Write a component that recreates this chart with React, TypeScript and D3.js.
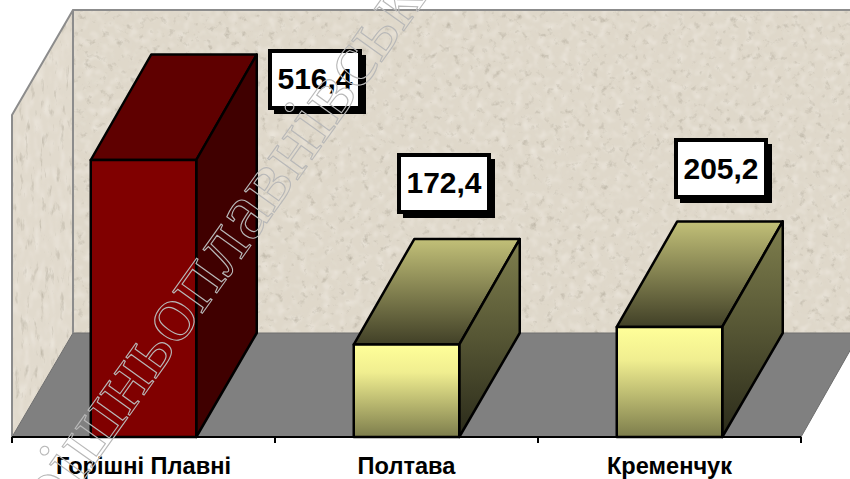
import React from "react";
import * as d3 from "d3";

const categories = ["Горішні Плавні", "Полтава", "Кременчук"];
const values = [516.4, 172.4, 205.2];
const valueLabels = ["516,4", "172,4", "205,2"];
const watermark = "Горішньоплавнівськ";

const W = 850, H = 479;
const depthX = 60.5, depthY = 104, topDepth = 105.5;
const floorY = 437, wallTop = 10;
const x = d3.scaleBand<string>().domain(categories).range([12, 801]);
const y = d3.scaleLinear().domain([0, 516.4]).range([floorY, 160]);
const poly = (pts: [number, number][]) => d3.line()(pts) + "Z";
const labelBoxes = [[270, 51, 38], [399, 155, 38], [676, 140, 39]];

function Granite({ id, freq, seed }: { id: string; freq: string; seed: number }) {
  return (
    <filter id={id} x="0" y="0" width="100%" height="100%">
      <feTurbulence type="fractalNoise" baseFrequency={freq} numOctaves={4} seed={seed} />
      <feColorMatrix type="matrix" values="0 0 0 0 0.47  0 0 0 0 0.43  0 0 0 0 0.35  2.6 0 0 0 -1.58" />
      <feGaussianBlur stdDeviation="0.7" />
      <feComposite in2="SourceGraphic" operator="in" result="dark" />
      <feTurbulence type="fractalNoise" baseFrequency={freq} numOctaves={3} seed={seed + 5} />
      <feColorMatrix type="matrix" values="0 0 0 0 0.93  0 0 0 0 0.9  0 0 0 0 0.84  1.2 0 0 0 -0.58" />
      <feGaussianBlur stdDeviation="1" />
      <feComposite in2="SourceGraphic" operator="in" result="light" />
      <feMerge><feMergeNode in="SourceGraphic" /><feMergeNode in="light" /><feMergeNode in="dark" /></feMerge>
    </filter>
  );
}

export default function App() {
  const bw = 105.5;
  return (
    <svg width={W} height={H} style={{ position: "absolute", left: 0, top: 0 }} fontFamily="Liberation Sans, Arial, sans-serif">
      <defs>
        <Granite id="granite" freq="0.13" seed={7} />
        <Granite id="graniteSide" freq="0.2 0.06" seed={3} />
        <linearGradient id="front" x1="0" x2="0" y1="0" y2="1">
          <stop offset="0" stopColor="#ffff99" /><stop offset="0.3" stopColor="#f0ee90" /><stop offset="1" stopColor="#7d7d4c" />
        </linearGradient>
        <linearGradient id="top" x1="0" x2="0" y1="0" y2="1">
          <stop offset="0" stopColor="#c2c078" /><stop offset="1" stopColor="#414027" />
        </linearGradient>
        <linearGradient id="side" x1="0" x2="0" y1="0" y2="1">
          <stop offset="0" stopColor="#80804e" /><stop offset="1" stopColor="#2b2b1a" />
        </linearGradient>
      </defs>
      <rect x={73} y={wallTop} width={W - 73} height={floorY - depthY - wallTop} fill="#dfd8ca" filter="url(#granite)" />
      <path d={poly([[12, 115], [73, wallTop], [73, floorY - depthY], [12, floorY]])} fill="#e1dacd" filter="url(#graniteSide)" />
      <path d={poly([[12, floorY], [73, floorY - depthY], [W + 10, floorY - depthY], [801, floorY]])} fill="#808080" stroke="#6e6e6e" strokeWidth={1} />
      <path d={`M12 ${floorY}V115L73 ${wallTop}H${W}M73 ${wallTop}V${floorY - depthY}`} fill="none" stroke="#8c8c8c" strokeWidth={2} />
      <line x1={12} x2={801} y1={floorY} y2={floorY} stroke="#000" strokeWidth={2} />
      {[...categories.map((c) => x(c)!), 801].map((t, i) => (
        <line key={i} x1={t} x2={t} y1={floorY} y2={floorY + 6} stroke="#000" strokeWidth={2} />
      ))}
      {categories.map((c, i) => {
        const cx = x(c)! + x.bandwidth() / 2;
        const l = cx - bw / 2;
        const r = l + bw;
        const t = y(values[i]);
        const first = i === 0;
        const common = { stroke: "#000", strokeWidth: 2.5, strokeLinejoin: "round" as const };
        return (
          <g key={c}>
            <path d={poly([[l, t], [l + depthX, t - topDepth], [r + depthX, t - topDepth], [r, t]])} fill={first ? "#5f0000" : "url(#top)"} {...common} />
            <path d={poly([[r, t], [r + depthX, t - topDepth], [r + depthX, floorY - depthY], [r, floorY]])} fill={first ? "#400000" : "url(#side)"} {...common} />
            <rect x={l} y={t} width={bw} height={floorY - t} fill={first ? "#800000" : "url(#front)"} {...common} />
          </g>
        );
      })}
      {valueLabels.map((v, i) => {
        const [bx, by, base] = labelBoxes[i];
        return (
          <g key={v}>
            <rect x={bx + 4} y={by + 4} width={92} height={59} fill="#000" />
            <rect x={bx} y={by} width={90} height={57} fill="#fff" stroke="#000" strokeWidth={4} />
            <text x={bx + 45} y={by + base} textAnchor="middle" fontSize={30} fontWeight="bold" fill="#000">{v}</text>
          </g>
        );
      })}
      {categories.map((c) => (
        <text key={c} x={x(c)! + x.bandwidth() / 2} y={474} textAnchor="middle" fontSize={23.6} fontWeight="bold" fill="#000">{c}</text>
      ))}
      <text transform="translate(5,590) rotate(-54.5) scale(1.05,1)" fontFamily="Liberation Serif, serif" fontSize={80} fill="none" stroke="#b8b8b8" strokeWidth={1.1}>{watermark}</text>
    </svg>
  );
}
